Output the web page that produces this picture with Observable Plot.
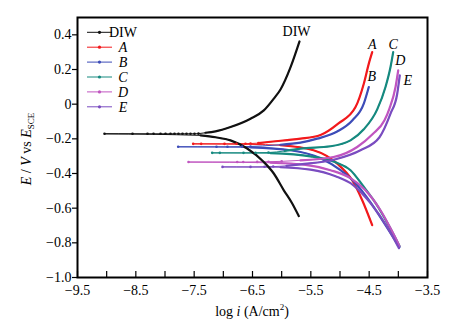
<!DOCTYPE html>
<html>
<head>
<meta charset="utf-8">
<script src="https://cdn.jsdelivr.net/npm/d3@7"></script>
<script src="https://cdn.jsdelivr.net/npm/@observablehq/plot@0.6"></script>
<style>
  html, body { margin: 0; padding: 0; background: #fff; }
  #chart { width: 451px; height: 332px; }
  #chart svg text { font-family: 'Liberation Serif', 'DejaVu Serif', serif; }
</style>
</head>
<body>
<div id="chart"></div>
<script>
// ---------- data (log i, E) ----------
const seriesNames = ["DIW", "A", "B", "C", "D", "E"];

const diwAnodic = [[-9.037,-0.171],[-8.557,-0.171],[-8.3,-0.171],[-8.197,-0.171],[-8.077,-0.171],[-7.991,-0.171],[-7.906,-0.171],[-7.837,-0.171],[-7.769,-0.171],[-7.7,-0.171],[-7.631,-0.171],[-7.563,-0.171],[-7.494,-0.171],[-7.426,-0.170],[-7.306,-0.165],[-7.134,-0.157],[-6.877,-0.132],[-6.534,-0.084],[-6.306,-0.036],[-6.135,0.032],[-6.02,0.085],[-5.849,0.212],[-5.694,0.362]];
const diwCathodic = [[-9.037,-0.171],[-7.391,-0.180],[-7.134,-0.191],[-6.877,-0.209],[-6.591,-0.256],[-6.306,-0.334],[-6.135,-0.400],[-5.963,-0.497],[-5.819,-0.573],[-5.706,-0.646]];

const aAnodic = [[-7.517,-0.229],[-7.38,-0.229],[-6.98,-0.229],[-6.774,-0.228],[-6.62,-0.228],[-6.534,-0.227],[-6.397,-0.225],[-6.191,-0.217],[-5.9,-0.207],[-5.677,-0.199],[-5.334,-0.178],[-5.026,-0.111],[-4.734,-0.017],[-4.592,0.118],[-4.506,0.234],[-4.448,0.300]];
const aCathodic = [[-7.517,-0.229],[-6.534,-0.232],[-6.02,-0.237],[-5.454,-0.266],[-5.048,-0.343],[-4.791,-0.439],[-4.619,-0.554],[-4.448,-0.698]];

const bAnodic = [[-7.774,-0.246],[-7.117,-0.246],[-6.929,-0.246],[-6.677,-0.245],[-6.534,-0.244],[-6.329,-0.241],[-6.02,-0.234],[-5.677,-0.222],[-5.391,-0.199],[-5.048,-0.158],[-4.786,-0.093],[-4.592,0.003],[-4.506,0.099]];
const bCathodic = [[-7.774,-0.246],[-6.534,-0.249],[-5.849,-0.266],[-5.334,-0.312],[-4.991,-0.381],[-4.734,-0.456],[-4.477,-0.566],[-4.22,-0.698],[-3.98,-0.825]];

const cAnodic = [[-7.191,-0.281],[-7.06,-0.281],[-6.654,-0.281],[-6.449,-0.280],[-6.226,-0.279],[-5.95,-0.270],[-5.677,-0.256],[-5.163,-0.243],[-4.82,-0.209],[-4.592,-0.145],[-4.362,-0.030],[-4.22,0.099],[-4.134,0.214],[-4.088,0.300]];
const cCathodic = [[-7.191,-0.281],[-6.191,-0.283],[-5.506,-0.301],[-5.077,-0.335],[-4.82,-0.381],[-4.597,-0.475],[-4.391,-0.570],[-4.168,-0.698],[-3.98,-0.819]];

const dAnodic = [[-7.597,-0.334],[-6.762,-0.334],[-6.659,-0.334],[-6.419,-0.333],[-6.226,-0.332],[-6.0,-0.330],[-5.677,-0.324],[-5.111,-0.305],[-4.705,-0.247],[-4.443,-0.174],[-4.237,-0.093],[-4.151,-0.024],[-4.048,0.099],[-4.002,0.195]];
const dCathodic = [[-7.597,-0.334],[-6.191,-0.338],[-5.591,-0.350],[-5.163,-0.381],[-4.82,-0.427],[-4.563,-0.497],[-4.306,-0.612],[-4.1,-0.738],[-3.98,-0.819]];

const eAnodic = [[-7.014,-0.362],[-6.534,-0.362],[-6.294,-0.361],[-6.145,-0.360],[-5.917,-0.356],[-5.677,-0.347],[-5.077,-0.318],[-4.649,-0.266],[-4.323,-0.191],[-4.134,-0.055],[-4.019,0.060],[-3.975,0.166]];
const eCathodic = [[-7.014,-0.362],[-6.02,-0.364],[-5.506,-0.378],[-5.077,-0.416],[-4.769,-0.468],[-4.477,-0.571],[-4.191,-0.708],[-3.989,-0.831]];

const xTickMajor = [-9.5, -8.5, -7.5, -6.5, -5.5, -4.5, -3.5];
const xTickMinor = [-9.0, -8.0, -7.0, -6.0, -5.0, -4.0];
const yTicks = [-1.0, -0.8, -0.6, -0.4, -0.2, 0, 0.2, 0.4];
const yTickLabels = ["−1.0", "−0.8", "−0.6", "−0.4", "−0.2", "0", "0.2", "0.4"];

// ---------- styles ----------
const seriesColors = ["#111111", "#f2191c", "#3d4cb8", "#15897f", "#c055c0", "#7a4cc0"];
const labelOffsets = { DIW: [-3, -10], A: [0, -8], B: [3, -10], C: [0, -8], D: [2, -10], E: [8, 5] };
const FONT = "Liberation Serif";

// ---------- build tables ----------
const branches = [
  ["DIW", diwAnodic, diwCathodic],
  ["A", aAnodic, aCathodic],
  ["B", bAnodic, bCathodic],
  ["C", cAnodic, cCathodic],
  ["D", dAnodic, dCathodic],
  ["E", eAnodic, eCathodic]
];
const thin = [], thick = [], dots = [], labels = [];
for (const [name, an, ca] of branches) {
  const ecorr = an[0][1];
  for (const [bname, arr] of [["a", an], ["c", ca]]) {
    const key = name + bname;
    arr.forEach(([x, y]) => thin.push({ name, key, x, y }));
    let k = arr.findIndex(([, y]) => Math.abs(y - ecorr) >= 0.012);
    if (k < 0) k = arr.length;
    arr.slice(Math.max(0, k - 1)).forEach(([x, y]) => thick.push({ name, key, x, y }));
    if (bname === "a") arr.forEach(([x, y]) => { if (Math.abs(y - ecorr) < 0.005) dots.push({ name, x, y }); });
  }
  const last = an[an.length - 1];
  labels.push({ name, x: last[0], y: last[1], dx: labelOffsets[name][0], dy: labelOffsets[name][1] });
}

const plot = Plot.plot({
  width: 451,
  height: 332,
  marginLeft: 77,
  marginRight: 24,
  marginTop: 17,
  marginBottom: 55,
  style: { fontFamily: FONT, fontSize: "14px", color: "#000", background: "#fff", overflow: "visible" },
  x: { domain: [-9.5, -3.5] },
  y: { domain: [-1.0, 0.5] },
  color: { domain: seriesNames, range: seriesColors },
  marks: [
    Plot.line(thin, { x: "x", y: "y", z: "key", stroke: "name", strokeWidth: 1, curve: "monotone-x" }),
    Plot.line(thick, { x: "x", y: "y", z: "key", stroke: "name", strokeWidth: 2.2, curve: "monotone-x" }),
    Plot.dot(dots, { x: "x", y: "y", r: 1.3, fill: "name", stroke: null }),
    ...labels.map(l => Plot.text([l], {
      x: "x", y: "y", text: "name", dx: l.dx, dy: l.dy,
      fontSize: 14, fontFamily: FONT, fill: "#000",
      fontStyle: l.name === "DIW" ? "normal" : "italic"
    })),
    Plot.tickX(xTickMinor.concat(xTickMajor), { x: d => d, insetTop: 254, stroke: "#000", strokeWidth: 1.2 }),
    Plot.axisX({ ticks: xTickMajor, tickSize: 0, tickPadding: 8, label: null, fontFamily: FONT,
      tickFormat: d => d.toFixed(1).replace("-", "−"), fontSize: 14 }),
    Plot.axisY({ ticks: yTicks, tickSize: 5, tickPadding: 1, label: null, strokeWidth: 1.2, fontFamily: FONT,
      tickFormat: d => yTickLabels[yTicks.findIndex(v => Math.abs(v - d) < 1e-9)], fontSize: 14 }),
    Plot.frame({ stroke: "#000", strokeWidth: 2 })
  ]
});

document.getElementById("chart").appendChild(plot);

// ---------- axis titles & legend ----------
const svg = d3.select(plot);
const ys = plot.scale("y"), xs = plot.scale("x");
const cy = (ys.apply(0.5) + ys.apply(-1.0)) / 2;
const cx = (xs.apply(-9.5) + xs.apply(-3.5)) / 2;

const yl = svg.append("text")
  .attr("transform", `translate(31,${cy + 2}) rotate(-90)`)
  .attr("text-anchor", "middle")
  .attr("font-family", FONT).attr("font-size", 14).attr("fill", "#000");
yl.append("tspan").attr("font-style", "italic").text("E");
yl.append("tspan").text(" / ");
yl.append("tspan").attr("font-style", "italic").text("V");
yl.append("tspan").text(" vs ");
yl.append("tspan").attr("font-style", "italic").text("E");
yl.append("tspan").attr("font-size", 9).attr("dy", 3).text("SCE");

const xl = svg.append("text")
  .attr("x", cx).attr("y", 316)
  .attr("text-anchor", "middle")
  .attr("font-family", FONT).attr("font-size", 14).attr("fill", "#000");
xl.append("tspan").text("log ");
xl.append("tspan").attr("font-style", "italic").text("i");
xl.append("tspan").text(" (A/cm");
xl.append("tspan").attr("font-size", 9).attr("dy", -6).text("2");
xl.append("tspan").attr("dy", 6).text(")");

const lg = svg.append("g");
seriesNames.forEach((name, i) => {
  const y = 32.3 + i * 14.9;
  const g = lg.append("g");
  g.append("line").attr("x1", 87).attr("x2", 112).attr("y1", y).attr("y2", y)
    .attr("stroke", seriesColors[i]).attr("stroke-width", 1);
  g.append("circle").attr("cx", 99.5).attr("cy", y).attr("r", 1.6).attr("fill", seriesColors[i]);
  g.append("text").attr("x", 123).attr("y", y + 4.8)
    .attr("font-family", FONT).attr("font-size", 14)
    .attr("font-style", name === "DIW" ? "normal" : "italic")
    .attr("fill", "#000").text(name);
});
</script>
</body>
</html>
